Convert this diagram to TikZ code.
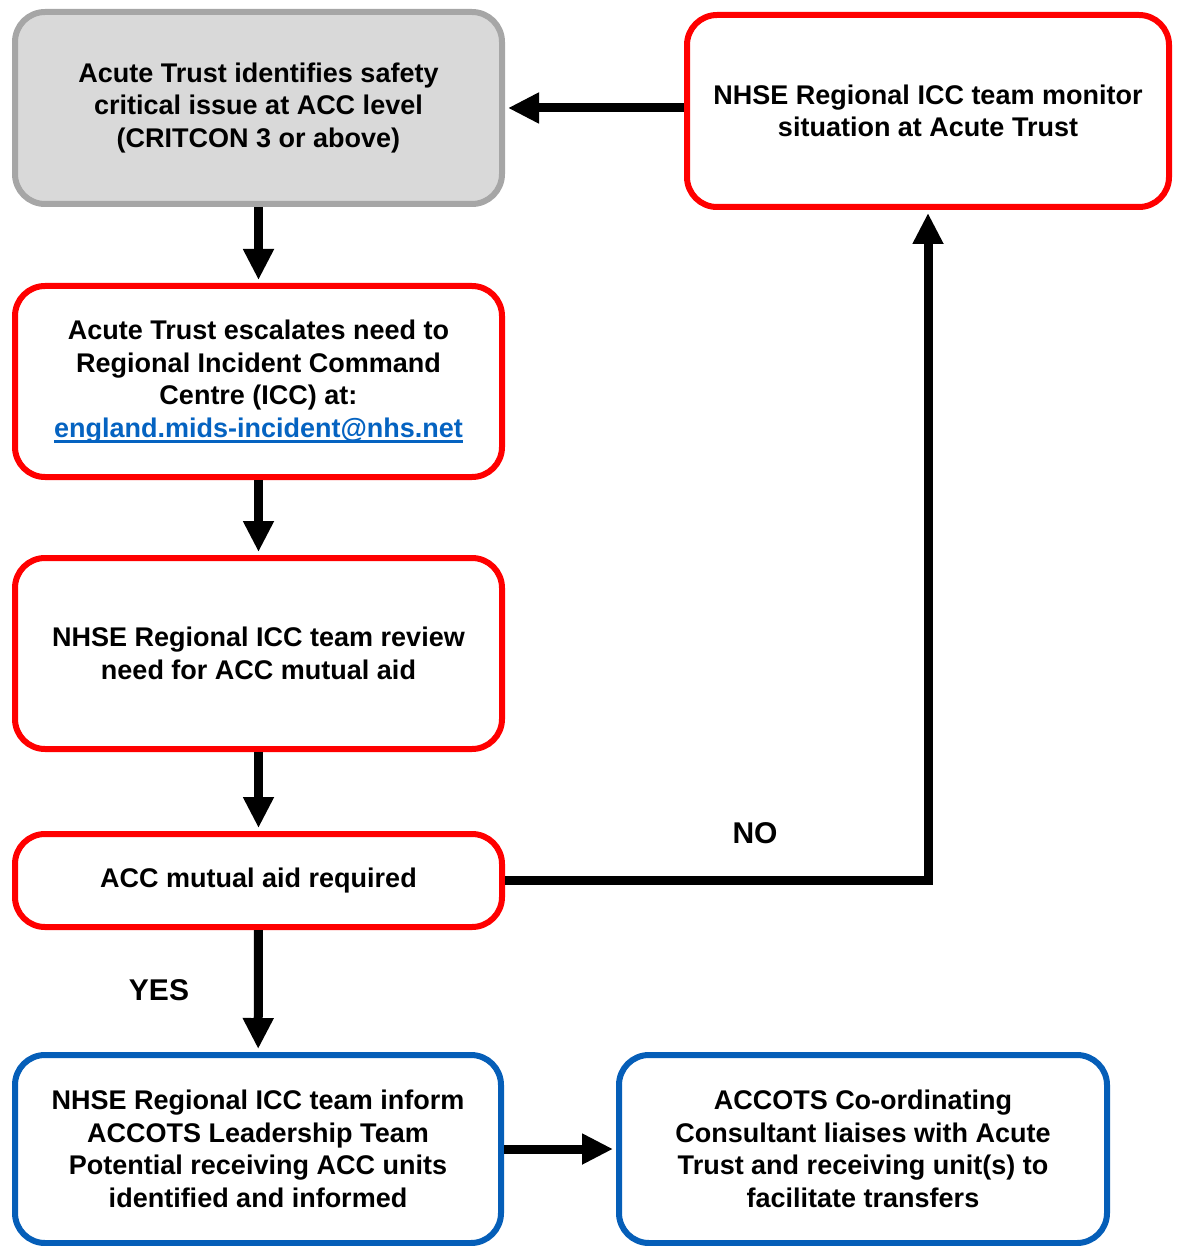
\documentclass[tikz,border=0pt]{standalone}
\usepackage{fontspec}
\setmainfont{Liberation Sans}
\newcommand\myuline[1]{\leavevmode\setbox0\hbox{#1}\rlap{\rule[-5.5pt]{\wd0}{2.2pt}}\box0}
\usetikzlibrary{arrows.meta}
\definecolor{nhsred}{RGB}{255,0,0}
\definecolor{nhsblue}{RGB}{5,94,184}
\definecolor{greyfill}{RGB}{217,217,217}
\definecolor{greyline}{RGB}{166,166,166}
\definecolor{linkblue}{RGB}{5,99,193}
\tikzset{
  box/.style={draw, line width=6pt, rounded corners=30pt, fill=white,
    align=center, font=\fontsize{27}{32.5}\selectfont\bfseries, inner sep=0pt},
  redbox/.style={box, draw=nhsred},
  bluebox/.style={box, draw=nhsblue},
  greybox/.style={box, draw=greyline, fill=greyfill},
  arr/.style={line width=9pt, -{Triangle[length=31pt,width=29pt]}, shorten >=3pt},
  lbl/.style={font=\fontsize{30}{36}\selectfont\bfseries, inner sep=0pt}
}
\begin{document}
\begin{tikzpicture}[x=1pt,y=-1pt]
\useasboundingbox (0,0) rectangle (1176,1246);
\node[greybox, minimum width=487pt, minimum height=192pt] (b1) at (258.5,108)
  {Acute Trust identifies safety\\critical issue at ACC level\\(CRITCON 3 or above)};
\node[redbox, minimum width=482pt, minimum height=192pt] (b2) at (928,111)
  {NHSE Regional ICC team monitor\\situation at Acute Trust};
\node[redbox, minimum width=487pt, minimum height=191pt] (b3) at (258.5,381.5)
  {Acute Trust escalates need to\\Regional Incident Command\\Centre (ICC) at:\\\textcolor{linkblue}{\myuline{england.mids-incident@nhs.net}}};
\node[redbox, minimum width=487pt, minimum height=191pt] (b4) at (258.5,653.5)
  {NHSE Regional ICC team review\\need for ACC mutual aid};
\node[redbox, minimum width=487pt, minimum height=93pt] (b5) at (258.5,880.5)
  {ACC mutual aid required};
\node[bluebox, minimum width=486pt, minimum height=188pt] (b6) at (258,1149)
  {NHSE Regional ICC team inform\\ACCOTS Leadership Team\\Potential receiving ACC units\\identified and informed};
\node[bluebox, minimum width=488pt, minimum height=188pt] (b7) at (863,1149)
  {ACCOTS Co-ordinating\\Consultant liaises with Acute\\Trust and receiving unit(s) to\\facilitate transfers};
\draw[arr] (b1) -- (b3);
\draw[arr] (b3) -- (b4);
\draw[arr] (b4) -- (b5);
\draw[arr] (b5) -- (b6);
\draw[arr] (b2.west |- b1.east) -- (b1.east);
\draw[arr] (b5.east) -| (b2.south);
\draw[arr] (b6.east) -- (b7.west);
\node[lbl] (no) at (755,833) {NO};
\node[lbl] (yes) at (159,990) {YES};
\end{tikzpicture}
\end{document}
